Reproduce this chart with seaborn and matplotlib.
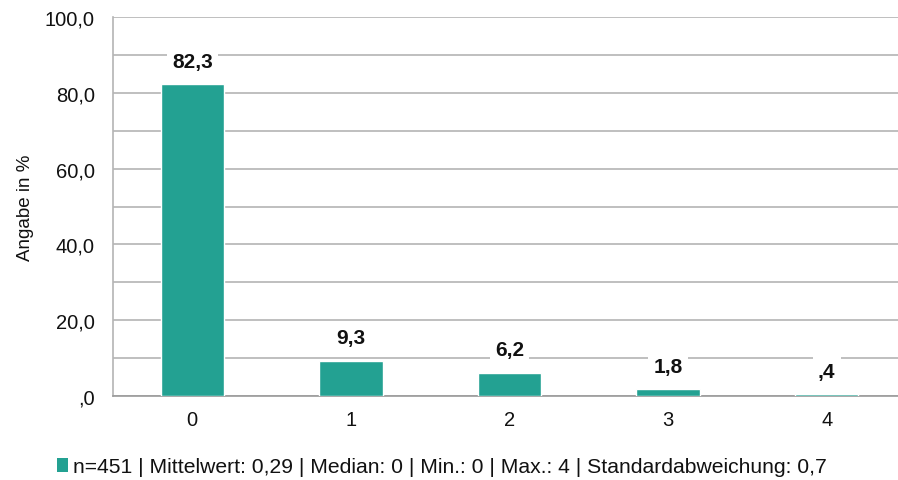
import pandas as pd
import matplotlib.pyplot as plt
import seaborn as sns
from matplotlib.patches import Patch

# data
categories = ['0', '1', '2', '3', '4']
percent = [82.3, 9.3, 6.2, 1.8, 0.4]
ytick_values = [0, 10, 20, 30, 40, 50, 60, 70, 80, 90, 100]
legend_text = 'n=451 | Mittelwert: 0,29 | Median: 0 | Min.: 0 | Max.: 4 | Standardabweichung: 0,7'

bar_color = '#23A192'
grid_color = '#B4B4B4'

sns.set_theme(style='white')
plt.rcParams['font.family'] = ['Liberation Sans', 'DejaVu Sans']


def de_fmt(v):
    # German decimal comma, leading zero dropped like in SPSS output
    s = f'{v:.1f}'.replace('.', ',')
    if s.startswith('0,'):
        s = s[1:]
    return s


df = pd.DataFrame({'Kategorie': categories, 'Prozent': percent})

fig = plt.figure(figsize=(8.98, 4.81), dpi=100)
ax = fig.add_axes([113 / 898, 1 - 397 / 481, 793 / 898, (397 - 18) / 481])

sns.barplot(data=df, x='Kategorie', y='Prozent', color=bar_color, saturation=1,
            width=0.4, ax=ax, zorder=3)

ax.set_ylim(0, 100)
ax.set_xlim(-0.5, 4.5)
ax.set_yticks(ytick_values)
ax.set_yticklabels([de_fmt(v) if v % 20 == 0 else '' for v in ytick_values])
ax.yaxis.grid(True, color=grid_color, linewidth=1.2, zorder=0)
ax.set_axisbelow(True)
ax.tick_params(axis='both', length=0, labelsize=14.5, colors='#111111')
ax.tick_params(axis='y', pad=13)
ax.tick_params(axis='x', pad=10)
ax.set_xlabel('')
ax.set_ylabel('Angabe in %', fontsize=13.5, labelpad=8, color='#111111')

for side in ['top', 'right']:
    ax.spines[side].set_visible(False)
ax.spines['left'].set_color(grid_color)
ax.spines['left'].set_linewidth(1.2)
ax.spines['bottom'].set_color('#9A9A9A')
ax.spines['bottom'].set_linewidth(1.2)

for i, v in enumerate(percent):
    ax.annotate(de_fmt(v), xy=(i, v), xytext=(0, 16.5), textcoords='offset points',
                ha='center', va='center', fontsize=15, fontweight='bold', color='#111111',
                bbox=dict(boxstyle='square,pad=0.25', facecolor='white', edgecolor='none'),
                zorder=5)

handle = Patch(facecolor=bar_color, edgecolor='none')
leg = fig.legend([handle], [legend_text], loc='center', bbox_to_anchor=(0.4917, 1 - 468 / 481),
                 frameon=False, fontsize=15.2, handlelength=0.55, handleheight=0.6,
                 handletextpad=0.2)
for t in leg.get_texts():
    t.set_color('#111111')

fig.savefig('out.png', dpi=100)
